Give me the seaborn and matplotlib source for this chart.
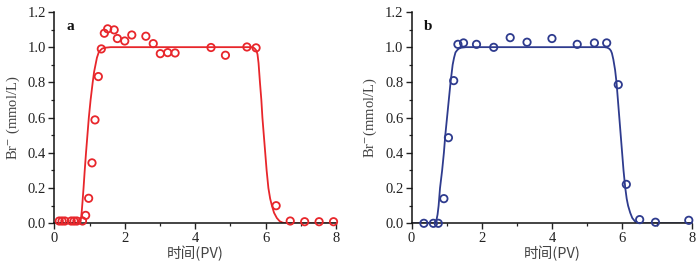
import numpy as np
import pandas as pd
import matplotlib
matplotlib.use("Agg")
import matplotlib.pyplot as plt
import seaborn as sns
from matplotlib.ticker import MultipleLocator

# ---- data: panel a ----
a_x = [0.14, 0.22, 0.30, 0.48, 0.56, 0.64, 0.80, 0.89, 0.975, 1.07, 1.155, 1.25, 1.335,
       1.42, 1.515, 1.70, 1.79, 2.00, 2.20, 2.60, 2.81, 3.01, 3.22, 3.43, 4.45, 4.86,
       5.47, 5.73, 6.30, 6.70, 7.11, 7.52, 7.93]
a_y = [0.013, 0.013, 0.013, 0.013, 0.013, 0.013, 0.013, 0.045, 0.142, 0.343, 0.587, 0.833, 0.99,
       1.079, 1.104, 1.098, 1.049, 1.035, 1.069, 1.062, 1.020, 0.963, 0.969, 0.967, 0.998, 0.954,
       1.001, 0.996, 0.100, 0.013, 0.009, 0.009, 0.009]
a_fit_x = [0.0, 0.5, 0.70, 0.72, 0.74, 0.76, 0.78, 0.80, 0.83, 0.86, 0.90, 0.94, 0.98, 1.03,
           1.09, 1.13, 1.17, 1.21, 1.26, 1.31, 1.36, 1.45, 1.60, 3.0, 5.0, 5.60, 5.66, 5.70,
           5.74, 5.77, 5.80, 5.84, 5.88, 5.91, 5.95, 5.99, 6.03, 6.08, 6.13, 6.18, 6.24, 6.32,
           6.40, 6.48, 6.58, 7.0, 8.0]
a_fit_y = [0.0, 0.0, 0.0, 0.005, 0.012, 0.03, 0.07, 0.12, 0.20, 0.29, 0.40, 0.50, 0.60, 0.70,
           0.80, 0.86, 0.90, 0.94, 0.97, 0.983, 0.992, 0.997, 1.0, 1.0, 1.0, 1.0, 0.997, 0.99,
           0.98, 0.96, 0.91, 0.80, 0.70, 0.60, 0.50, 0.40, 0.30, 0.20, 0.14, 0.10, 0.06, 0.03,
           0.012, 0.004, 0.0, 0.0, 0.0]

# ---- data: panel b ----
b_x = [0.35, 0.62, 0.76, 0.92, 1.05, 1.20, 1.32, 1.48, 1.85, 2.34, 2.81, 3.29, 4.00, 4.72,
       5.21, 5.56, 5.89, 6.12, 6.50, 6.95, 7.90]
b_y = [0.0, 0.0, 0.0, 0.14, 0.486, 0.81, 1.016, 1.024, 1.016, 0.999, 1.054, 1.028, 1.049, 1.016,
       1.024, 1.024, 0.787, 0.221, 0.021, 0.006, 0.017]
b_fit_x = [0.0, 0.5, 0.64, 0.68, 0.71, 0.74, 0.77, 0.81, 0.87, 0.92, 0.96, 1.01, 1.06, 1.11,
           1.14, 1.17, 1.21, 1.25, 1.30, 1.35, 1.42, 1.55, 3.0, 5.0, 5.50, 5.58, 5.64, 5.68,
           5.71, 5.75, 5.80, 5.84, 5.88, 5.92, 5.96, 6.00, 6.04, 6.09, 6.13, 6.17, 6.23, 6.29,
           6.37, 6.46, 6.55, 7.0, 8.0]
b_fit_y = [0.0, 0.0, 0.0, 0.005, 0.02, 0.05, 0.10, 0.20, 0.30, 0.40, 0.50, 0.60, 0.70, 0.80,
           0.85, 0.90, 0.94, 0.97, 0.983, 0.992, 0.997, 1.0, 1.0, 1.0, 1.0, 0.997, 0.99, 0.98,
           0.965, 0.93, 0.87, 0.80, 0.70, 0.60, 0.50, 0.40, 0.30, 0.20, 0.14, 0.10, 0.06, 0.03,
           0.01, 0.002, 0.0, 0.0, 0.0]

panels = ["a", "b"]
x_ticks = [0, 2, 4, 6, 8]
y_ticks = [0.0, 0.2, 0.4, 0.6, 0.8, 1.0, 1.2]
xlabel = "时间(PV)"
ylabels = ["Br$^{-}$ (mmol/L)", "Br$^{-}$(mmol/L)"]

RED = "#E8262B"
BLUE = "#2E3B8E"

sns.set_theme(style="ticks")
plt.rcParams["font.family"] = ["Liberation Serif", "Noto Sans CJK SC", "DejaVu Sans"]
plt.rcParams["mathtext.fontset"] = "stix"

fig = plt.figure(figsize=(7.0, 2.71), dpi=100)
ax_a = fig.add_axes([0.0776, 0.176, 0.4024, 0.780])
ax_b = fig.add_axes([0.588, 0.176, 0.401, 0.780])

specs = [
    (ax_a, a_x, a_y, a_fit_x, a_fit_y, RED, panels[0], ylabels[0]),
    (ax_b, b_x, b_y, b_fit_x, b_fit_y, BLUE, panels[1], ylabels[1]),
]

for ax, px, py, fx, fy, col, lab, ylab in specs:
    sns.lineplot(x=fx, y=fy, ax=ax, color=col, linewidth=1.3, sort=False)
    sns.scatterplot(x=px, y=py, ax=ax, marker="o", s=28, facecolor="none",
                    edgecolor=col, linewidth=1.3, zorder=3, clip_on=False)
    ax.set_xlim(0, 8)
    ax.set_ylim(0, 1.2)
    ax.set_xticks(x_ticks)
    ax.set_yticks(y_ticks)
    ax.set_xticklabels([str(t) for t in x_ticks])
    ax.set_yticklabels([f"{t:.1f}" for t in y_ticks])
    ax.xaxis.set_minor_locator(MultipleLocator(1))
    ax.yaxis.set_minor_locator(MultipleLocator(0.1))
    ax.tick_params(axis="both", which="major", direction="out", length=4, width=1.0,
                   labelsize=10.5, colors="#222222", pad=2)
    ax.tick_params(axis="both", which="minor", direction="out", length=2.5, width=0.9,
                   colors="#222222")
    for s in ["top", "right"]:
        ax.spines[s].set_visible(False)
    for s in ["left", "bottom"]:
        ax.spines[s].set_linewidth(1.1)
        ax.spines[s].set_color("#111111")
    ax.set_xlabel(xlabel, fontsize=10.5, color="#444444",
                  family=["Noto Sans CJK SC", "Liberation Serif"], labelpad=1)
    ax.set_ylabel(ylab, fontsize=10.5, color="#444444", labelpad=4)
    ax.text(0.045, 0.96, lab, transform=ax.transAxes, fontsize=11, fontweight="bold",
            color="#111111", va="top", ha="left")
    ax.set_facecolor("white")

fig.patch.set_facecolor("white")
fig.savefig("out.png", dpi=100, facecolor="white")
